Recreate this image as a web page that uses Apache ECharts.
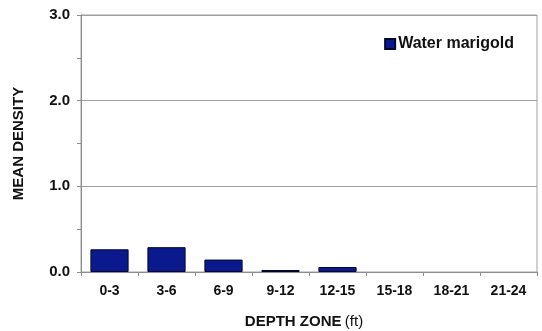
<!DOCTYPE html>
<html>
<head>
<meta charset="utf-8">
<style>
  html, body { margin: 0; padding: 0; background: #fff; }
  #chart { width: 542px; height: 331px; }
</style>
<script src="https://cdn.jsdelivr.net/npm/echarts@6/dist/echarts.min.js"></script>
</head>
<body>
<div id="chart"></div>
<script>
// Depth zones (feet) and mean density of water marigold in each zone
const depthZones = ['0-3', '3-6', '6-9', '9-12', '12-15', '15-18', '18-21', '21-24'];
const waterMarigold = [0.265, 0.29, 0.145, 0.023, 0.058, 0, 0, 0];
const densityTicks = [0, 1, 2, 3];

const FONT = 'Liberation Sans, Arial, sans-serif';
const chart = echarts.init(document.getElementById('chart'));

// Empty zones get no outline so no sliver is drawn on the baseline
const barData = waterMarigold.map(v => ({
  value: v,
  itemStyle: v === 0 ? { borderWidth: 0 } : undefined
}));

chart.setOption({
  animation: false,
  backgroundColor: '#ffffff',
  grid: {
    left: 81, right: 5, top: 15, bottom: 59,
    outerBoundsMode: 'none',
    containLabel: false,
    show: true, borderColor: '#a0a0a0', borderWidth: 1
  },
  legend: {
    right: 23,
    top: 31,
    itemWidth: 10,
    itemHeight: 10,
    itemGap: 4,
    icon: 'rect',
    textStyle: { fontFamily: FONT, fontWeight: 'bold', fontSize: 16, color: '#111', padding: [0, 0, 0, -2] },
    data: ['Water marigold']
  },
  xAxis: {
    type: 'category',
    data: depthZones,
    name: '{b|DEPTH ZONE} {n|(ft)}',
    nameLocation: 'middle',
    nameGap: 42,
    nameTextStyle: {
      padding: [0, 10, 0, 0],
      rich: {
        b: { fontFamily: FONT, fontWeight: 'bold', fontSize: 15, color: '#111' },
        n: { fontFamily: FONT, fontWeight: 'normal', fontSize: 15, color: '#111' }
      }
    },
    axisLine: { lineStyle: { color: '#8c8c8c', width: 1 } },
    axisTick: { show: true, length: 4, lineStyle: { color: '#8c8c8c' } },
    axisLabel: { fontFamily: FONT, fontWeight: 'bold', fontSize: 14, color: '#111', margin: 12 },
    splitLine: { show: false }
  },
  yAxis: {
    type: 'value',
    min: densityTicks[0],
    max: densityTicks[densityTicks.length - 1],
    interval: 1,
    name: 'MEAN DENSITY',
    nameLocation: 'middle',
    nameGap: 55,
    nameTextStyle: { fontFamily: FONT, fontWeight: 'bold', fontSize: 15, color: '#111' },
    axisLine: { show: true, lineStyle: { color: '#8c8c8c', width: 1 } },
    axisTick: { show: true, length: 4, lineStyle: { color: '#8c8c8c' } },
    minorTick: { show: true, splitNumber: 2, length: 4, lineStyle: { color: '#8c8c8c' } },
    axisLabel: {
      fontFamily: FONT, fontWeight: 'bold', fontSize: 15, color: '#111', margin: 11,
      formatter: v => v.toFixed(1)
    },
    splitLine: { show: true, lineStyle: { color: '#a0a0a0', width: 1 } }
  },
  series: [{
    name: 'Water marigold',
    type: 'bar',
    data: barData,
    barCategoryGap: '33%',
    itemStyle: { color: '#0a1a8c', borderColor: '#02062e', borderWidth: 1 }
  }]
});
</script>
</body>
</html>
